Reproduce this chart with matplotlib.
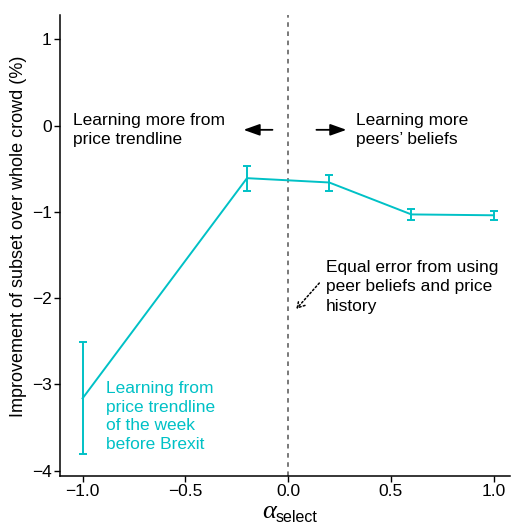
import numpy as np
import matplotlib
matplotlib.use('Agg')
import matplotlib.pyplot as plt

plt.rcParams['font.family'] = ['Liberation Sans', 'DejaVu Sans']

alpha_select = [-1.0, -0.2, 0.2, 0.6, 1.0]
improvement = [-3.16, -0.61, -0.66, -1.03, -1.04]
err_low = [-3.81, -0.76, -0.76, -1.09, -1.09]
err_high = [-2.51, -0.47, -0.57, -0.97, -0.99]

x_ticks = [-1.0, -0.5, 0.0, 0.5, 1.0]
x_ticklabels = ['\u22121.0', '\u22120.5', '0.0', '0.5', '1.0']
y_ticks = [-4, -3, -2, -1, 0, 1]
y_ticklabels = ['\u22124', '\u22123', '\u22122', '\u22121', '0', '1']

cyan = '#00C1C6'
fs = 12.5
W, H = 511, 529

fig = plt.figure(figsize=(W / 100, H / 100), dpi=100)
ax = fig.add_axes([60 / W, 1 - 476 / H, 450 / W, 461 / H])

y = np.array(improvement)
yerr = [y - np.array(err_low), np.array(err_high) - y]
ax.errorbar(alpha_select, improvement, yerr=yerr, color=cyan, lw=1.4,
            capsize=3, capthick=1.4, elinewidth=1.4)

ax.axvline(0, color='#555555', ls=(0, (3, 3)), lw=1.1)

ax.set_xlim(-1.11, 1.08)
ax.set_ylim(-4.06, 1.28)
ax.set_xticks(x_ticks)
ax.set_xticklabels(x_ticklabels, fontsize=fs)
ax.set_yticks(y_ticks)
ax.set_yticklabels(y_ticklabels, fontsize=fs)
ax.tick_params(direction='out', length=4, width=1, colors='black', pad=2)

for s in ['top', 'right']:
    ax.spines[s].set_visible(False)
for s in ['left', 'bottom']:
    ax.spines[s].set_linewidth(1.1)

ax.set_ylabel('Improvement of subset over whole crowd (%)', fontsize=13)
ax.yaxis.set_label_coords(-0.074, 0.52)

# x label: alpha with "select" subscript
fig.text(262 / W, 1 - 518 / H, '\u03b1', fontsize=19, family='Liberation Serif',
         style='italic', ha='left', va='baseline')
fig.text(276 / W, 1 - 522 / H, 'select', fontsize=11.5, ha='left', va='baseline')

ax.text(-1.045, -0.05, 'Learning more from\nprice trendline', fontsize=fs,
        va='center', ha='left', linespacing=1.35)
ax.text(0.33, -0.05, 'Learning more\npeers\u2019 beliefs', fontsize=fs,
        va='center', ha='left', linespacing=1.35)
head = dict(arrowstyle='-|>,head_length=0.7,head_width=0.25', color='black', lw=1.3,
            mutation_scale=14, shrinkA=0, shrinkB=0)
ax.annotate('', xy=(-0.217, -0.05), xytext=(-0.076, -0.05), arrowprops=head)
ax.annotate('', xy=(0.284, -0.05), xytext=(0.138, -0.05), arrowprops=head)

ax.text(0.184, -1.87, 'Equal error from using\npeer beliefs and price\nhistory', fontsize=fs,
        va='center', ha='left', linespacing=1.35)
ax.annotate('', xy=(0.04, -2.125), xytext=(0.152, -1.825),
            arrowprops=dict(arrowstyle='->,head_length=0.5,head_width=0.3', color='black', lw=1.1,
                            ls=(0, (1.2, 1.5)), mutation_scale=10, shrinkA=0, shrinkB=0))

ax.text(-0.885, -3.37, 'Learning from\nprice trendline\nof the week\nbefore Brexit', fontsize=fs,
        color=cyan, va='center', ha='left', linespacing=1.3)

fig.savefig('out.png', dpi=100)
